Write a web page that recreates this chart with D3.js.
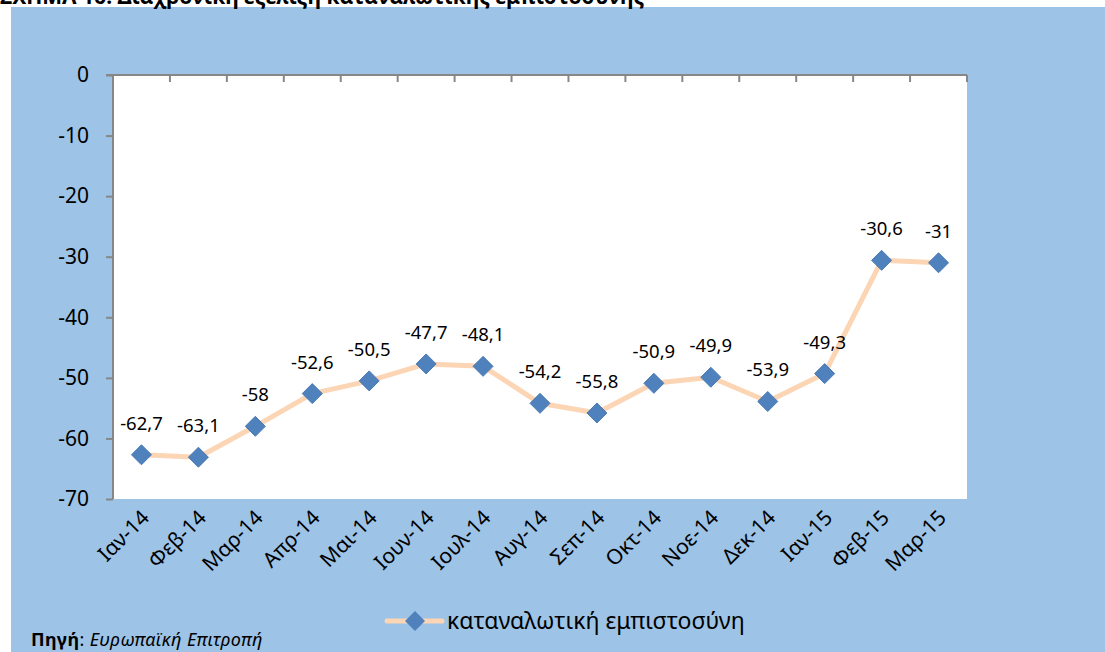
<!DOCTYPE html>
<html>
<head>
<meta charset="utf-8">
<script src="https://cdn.jsdelivr.net/npm/d3@7"></script>
<style>
  body { margin: 0; background: #fff; }
  text { font-family: "Noto Sans", "DejaVu Sans", sans-serif; }
</style>
</head>
<body>
<div class="main"></div>
<script>
// months and consumer confidence values
let months = ['Ιαν-14', 'Φεβ-14', 'Μαρ-14', 'Απρ-14', 'Μαι-14', 'Ιουν-14', 'Ιουλ-14', 'Αυγ-14',
              'Σεπ-14', 'Οκτ-14', 'Νοε-14', 'Δεκ-14', 'Ιαν-15', 'Φεβ-15', 'Μαρ-15'];
let confidence = [-62.7, -63.1, -58, -52.6, -50.5, -47.7, -48.1, -54.2, -55.8, -50.9, -49.9, -53.9, -49.3, -30.6, -31];
let yTicks = [0, -10, -20, -30, -40, -50, -60, -70];
let seriesName = 'καταναλωτική εμπιστοσύνη';

let opts = {
  width: 1105,
  height: 652,
  left: 113,
  right: 967,
  top: 75,
  bottom: 499
};

let svg = d3.select('.main').append('svg')
  .attr('width', opts.width)
  .attr('height', opts.height);

// background panel
svg.append('rect')
  .attr('x', 11).attr('y', 7)
  .attr('width', opts.width - 11).attr('height', opts.height - 7)
  .attr('fill', '#9dc3e6');

// title, mostly above the page edge like in the original
svg.append('text')
  .attr('x', 0).attr('y', 4)
  .attr('font-size', 21)
  .attr('font-weight', 'bold')
  .text('ΣΧΗΜΑ 16: Διαχρονική εξέλιξη καταναλωτικής εμπιστοσύνης');

let x = d3.scaleBand().domain(months).range([opts.left, opts.right]);
let y = d3.scaleLinear().domain([-70, 0]).range([opts.bottom, opts.top]);

// plot area
svg.append('rect')
  .attr('x', opts.left).attr('y', opts.top)
  .attr('width', opts.right - opts.left).attr('height', opts.bottom - opts.top)
  .attr('fill', '#fff');

let grey = '#878787';

// y axis
let yAxis = svg.append('g')
  .attr('transform', `translate(${opts.left},0)`)
  .call(d3.axisLeft(y).tickValues(yTicks).tickSize(7).tickPadding(17).tickFormat(d3.format('d')));
yAxis.select('.domain').attr('stroke', grey).attr('stroke-width', 2).attr('d', `M0,${opts.top}V${opts.bottom}`);
yAxis.selectAll('.tick line').attr('stroke', grey).attr('stroke-width', 2);
yAxis.selectAll('.tick text')
  .attr('fill', '#000')
  .attr('font-size', 21)
  .attr('font-family', '"Noto Sans", sans-serif')
  .text(d => d === 0 ? '0' : '-' + Math.abs(d));

// category axis crosses at zero (top of the plot)
let boundaries = months.map((m, i) => x(m)).concat([opts.right]);
svg.append('line')
  .attr('x1', opts.left - 7).attr('x2', opts.right)
  .attr('y1', y(0)).attr('y2', y(0))
  .attr('stroke', grey).attr('stroke-width', 2);
svg.selectAll('.xtick').data(boundaries.slice(1)).enter().append('line')
  .attr('class', 'xtick')
  .attr('x1', d => d).attr('x2', d => d)
  .attr('y1', y(0)).attr('y2', y(0) + 7)
  .attr('stroke', grey).attr('stroke-width', 2);

// category labels, rotated, at the bottom
svg.selectAll('.xlabel').data(months).enter().append('text')
  .attr('class', 'xlabel')
  .attr('text-anchor', 'end')
  .attr('font-size', 21)
  .attr('transform', d => `translate(${x(d) + x.bandwidth() / 2 + 9},${opts.bottom + 20}) rotate(-45)`)
  .text(d => d);

let cx = d => x(d) + x.bandwidth() / 2;

// line
let line = d3.line().x((d, i) => cx(months[i])).y(d => y(d));
svg.append('path')
  .datum(confidence)
  .attr('d', line)
  .attr('fill', 'none')
  .attr('stroke', '#fcd5b5')
  .attr('stroke-width', 5)
  .attr('stroke-linejoin', 'round');

// diamond markers
let diamond = 'M0,-10L10,0L0,10L-10,0Z';
svg.selectAll('.marker').data(confidence).enter().append('path')
  .attr('class', 'marker')
  .attr('d', diamond)
  .attr('transform', (d, i) => `translate(${cx(months[i])},${y(d)})`)
  .attr('fill', '#4f81bd')
  .attr('stroke', '#4a7ab3')
  .attr('stroke-width', 1);

// value labels
let fmt = d => String(d).replace('.', ',');
svg.selectAll('.vlabel').data(confidence).enter().append('text')
  .attr('class', 'vlabel')
  .attr('text-anchor', 'middle')
  .attr('font-size', 18.5)
  .attr('x', (d, i) => cx(months[i]))
  .attr('y', d => y(d) - 25)
  .text(fmt);

// legend
let lg = svg.append('g').attr('transform', 'translate(387,621)');
lg.append('line')
  .attr('x1', 0).attr('x2', 55)
  .attr('y1', 0).attr('y2', 0)
  .attr('stroke', '#fcd5b5').attr('stroke-width', 5)
  .attr('stroke-linecap', 'round');
lg.append('path')
  .attr('d', diamond)
  .attr('transform', 'translate(28,0)')
  .attr('fill', '#4f81bd');
lg.append('text')
  .attr('x', 60).attr('y', 8)
  .attr('font-size', 23)
  .text(seriesName);

// source
let src = svg.append('text')
  .attr('x', 31).attr('y', 646)
  .attr('font-size', 18)
  .attr('letter-spacing', 0.4);
src.append('tspan').attr('font-weight', 'bold').text('Πηγή');
src.append('tspan').text(': ');
src.append('tspan').attr('font-style', 'italic').text('Ευρωπαϊκή Επιτροπή');
</script>
</body>
</html>
